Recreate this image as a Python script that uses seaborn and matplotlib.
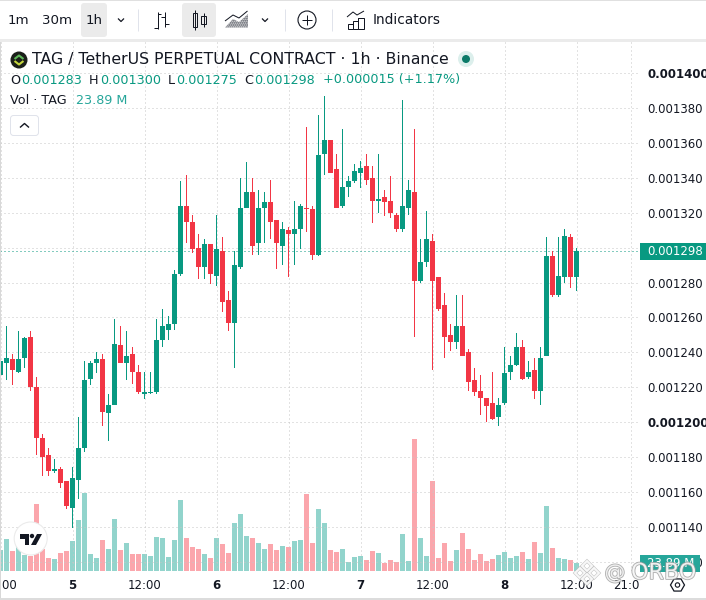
import numpy as np
import pandas as pd
import matplotlib
matplotlib.use("Agg")
import matplotlib.pyplot as plt
import matplotlib.patheffects as pe
from matplotlib.patches import Circle, FancyBboxPatch, Rectangle, Polygon, RegularPolygon
from matplotlib.transforms import Bbox
import seaborn as sns

# prices in millionths of USDT
opens = [1227,1234,1236,1229,1237,1249,1220,1191,1181,1172,
         1173,1166,1151,1167,1185,1225,1234,1236,1205,1210,
         1244,1234,1239,1229,1216,1216.8,1217,1247,1253,1256,
         1285,1324,1315,1300,1289,1302,1284,1298,1270,1257,
         1289,1323,1332,1303,1323,1326,1316,1301,1310,1308,
         1311,1323,1322,1296,1354,1362,1345,1324,1335,1338,
         1343,1347,1340,1327,1329,1327,1319,1311,1323,1332,
         1281,1292,1304,1283,1267,1250,1246,1255,1240,1224,
         1218,1214,1211,1203,1211,1229,1233,1243,1226,1230,
         1218,1238,1295,1273,1283,1306,1283]
closes = [1235,1237,1230,1236,1248,1220,1191,1180,1172,1173,
          1165,1152,1168,1185,1224,1234,1236,1206,1210,1245,
          1234,1238,1229,1217,1217,1217.4,1247,1255,1256,1285,
          1324,1315,1299,1289,1302,1285,1299,1269,1257,1290,
          1323,1332,1301,1323,1326,1315,1303,1311,1308,1311,
          1324,1322,1296,1353,1362,1343,1323,1335,1338,1344,
          1346,1339,1327,1328,1326,1320,1311,1324,1333,1281,
          1292,1305,1281,1265,1249,1246,1255,1238,1223,1217,
          1214,1209,1202,1210,1228,1233,1243,1225,1229,1218,
          1237,1295,1273,1284,1307,1283,1298]
highs = [1235,1255,1239,1252,1249,1252,1226,1193,1185,1179,
         1174,1166,1174,1203,1235,1235,1240,1239,1216,1259,
         1255,1252,1243,1233,1229,1229,1259,1265,1261,1287,
         1338,1342,1319,1308,1305,1302,1319,1306,1275,1298,
         1340,1349,1340,1333,1332,1339,1316,1315,1312,1327,
         1325,1369,1324,1376,1387,1362,1354,1368,1341,1348,
         1350,1354,1347,1354,1333,1341,1320,1385,1339,1368,
         1305,1321,1308,1283,1274,1256,1273,1273,1242,1231,
         1227,1214,1229,1214,1243,1238,1251,1247,1235,1237,
         1243,1306,1298,1306,1311,1308,1300]
lows = [1227,1224,1221,1228,1231,1218,1181,1169,1169,1171,
        1162,1150,1139,1156,1183,1221,1228,1198,1189,1210,
        1234,1224,1222,1216,1213,1216,1216,1243,1247,1253,
        1284,1303,1297,1282,1282,1279,1278,1263,1252,1231,
        1288,1323,1296,1296,1303,1305,1288,1290,1283,1290,
        1299,1309,1293,1295,1342,1343,1323,1323,1329,1337,
        1334,1336,1314,1320,1318,1317,1309,1309,1319,1249,
        1280,1289,1230,1264,1237,1241,1242,1238,1218,1215,
        1204,1200,1201,1198,1210,1224,1232,1224,1225,1213,
        1210,1238,1272,1272,1280,1277,1275]
volumes_m = [63,96,60,75,48,45,201,66,39,36,
             54,60,90,153,234,51,39,93,66,156,
             63,84,51,51,51,45,102,99,42,93,
             213,99,72,66,51,39,99,81,54,144,
             171,105,99,84,66,81,63,75,72,90,
             93,231,84,186,144,63,57,66,27,42,
             45,33,60,54,24,33,27,111,30,396,
             99,45,270,39,84,30,63,114,66,33,
             51,30,36,48,57,39,45,57,36,87,
             54,195,69,39,36,33,23.89]
price_ticks = [1120,1140,1160,1180,1200,1220,1240,1260,1280,1300,1320,1340,1360,1380,1400]
bold_prices = [1200,1400]
hidden_prices = [1300]
time_ticks = [0,12,24,36,48,60,72,84,96,105]
time_labels = ["12:00","5","12:00","6","12:00","7","12:00","8","12:00","21:00"]
bold_times = ["5","6","7","8"]
last_price = 1298
UP, DOWN = "#089981", "#F23645"
UP_VOL, DOWN_VOL = "#92D4CC", "#FBA6AC"
TEXT = "#131722"
GRID = "#C6C6C6"

sns.set_theme(style="white")
plt.rcParams["font.family"] = ["DejaVu Sans"]
W, H = 706, 600
fig = plt.figure(figsize=(W/100, H/100), dpi=100, facecolor="white")

def box(l, t, r, b):
    return [l/W, 1-b/H, (r-l)/W, (b-t)/H]

df = pd.DataFrame(dict(i=range(len(opens)), o=opens, h=highs, l=lows, c=closes, vol=volumes_m))
df["dir"] = np.where(df.c >= df.o, "up", "down")
e6 = 1e-6
xlim = (-0.5/6, (639-0.5)/6)
ylim = (1114.6*e6, 1418.0*e6)

# volume pane
axv = fig.add_axes(box(0, 42, 639, 571), zorder=1)
sns.barplot(data=df, x="i", y="vol", hue="dir", palette={"up": UP_VOL, "down": DOWN_VOL},
            native_scale=True, dodge=False, width=5/6, saturation=1, errorbar=None,
            legend=False, linewidth=0, ax=axv)
axv.set_xlim(xlim); axv.set_ylim(0, 529*3)
axv.set_xticks([]); axv.set_yticks([]); axv.set_xlabel(""); axv.set_ylabel("")
sns.despine(ax=axv, left=True, bottom=True)

# price pane
ax = fig.add_axes(box(0, 42, 639, 571), zorder=2)
ax.patch.set_alpha(0)
ax.set_xlim(xlim); ax.set_ylim(ylim)
for d, col in (("up", UP), ("down", DOWN)):
    s = df[df.dir == d]
    ax.bar(s.i, (s.h-s.l)*e6, bottom=s.l*e6, width=1/6, color=col, linewidth=0, zorder=3)
    ax.bar(s.i, (s.c-s.o)*e6, bottom=s.o*e6, width=5/6, color=col, linewidth=0, zorder=4)
ax.axhline(last_price*e6, color=UP, lw=0.72, ls=(0, (1, 3)), zorder=2)
ax.set_xticks(time_ticks); ax.set_xticklabels(time_labels)
ax.set_yticks([p*e6 for p in price_ticks])
ax.set_yticklabels(["" if p in hidden_prices else f"{p*e6:.6f}" for p in price_ticks])
ax.yaxis.tick_right()
ax.tick_params(axis="both", length=0, labelsize=8.45, labelcolor=TEXT)
ax.tick_params(axis="y", pad=5.8)
ax.tick_params(axis="x", pad=5.5)
ax.grid(True, color=GRID, lw=0.72, ls=(0, (1, 3)), zorder=0)
ax.set_axisbelow(True)
sns.despine(ax=ax, left=True, bottom=True, right=True, top=True)
for lab, p in zip(ax.get_yticklabels(), price_ticks):
    if p in bold_prices:
        lab.set_fontweight("bold")
for lab in ax.get_xticklabels():
    if lab.get_text() in bold_times:
        lab.set_fontweight("bold")
    lab.set_clip_on(True)
    lab.set_clip_box(Bbox([[0, 0], [639, H]]))

# chrome overlay in pixel coordinates
ov = fig.add_axes([0, 0, 1, 1], zorder=5)
ov.set_xlim(0, W); ov.set_ylim(H, 0); ov.axis("off"); ov.patch.set_alpha(0)

def T(x, y, s, size=9.2, color=TEXT, ha="left", **kw):
    return ov.text(x, y, s, fontsize=size, color=color, ha=ha, va="center", **kw)
def L(xs, ys, color=TEXT, lw=0.72, **kw):
    ov.plot(xs, ys, color=color, lw=lw, solid_capstyle="butt", **kw)
def RR(l, t, r, b, fc, ec="none", rad=3, lw=0.72):
    ov.add_patch(FancyBboxPatch((l+rad, t+rad), r-l-2*rad, b-t-2*rad,
                 boxstyle=f"round,pad={rad}", fc=fc, ec=ec, lw=lw))

# toolbar
ov.add_patch(Rectangle((0, 0), W, 38.5, fc="white", ec="none"))
ov.add_patch(Rectangle((0, 38.5), W, 3.5, fc="#EBEBEB", ec="none"))
ov.add_patch(Rectangle((0, 0), W, 1, fc="#E0E0E0", ec="none"))
RR(81, 3, 107, 37, "#EBEBEB")
RR(182, 3, 216, 37, "#EBEBEB")
T(7.5, 20, "1m", 9.6); T(42, 20, "30m", 9.6); T(85.5, 20, "1h", 9.6)
T(373, 20, "Indicators", 9.95)
for xc in (121, 265):
    L([xc-3, xc, xc+3], [18.5, 21.5, 18.5], lw=0.9)
for xs in (137.5, 284.5, 331.5):
    L([xs, xs], [9, 31], color="#E0E3EB")
# bar icon
L([157.5, 157.5], [12, 28.5]); L([154, 157.5], [28, 28]); L([157.5, 161, ], [14, 14])
L([164.5, 164.5], [12, 27]); L([161, 164.5], [17, 17]); L([164.5, 169], [24, 24])
# candle icon
L([195, 195], [10, 30]); ov.add_patch(Rectangle((192.7, 12.7), 4.6, 14, fc="#EBEBEB", ec=TEXT, lw=0.72))
L([203.5, 203.5], [12.7, 27]); ov.add_patch(Rectangle((201, 15.7), 4.8, 8.3, fc="#EBEBEB", ec=TEXT, lw=0.72))
# area icon
ov.add_patch(Polygon([(225, 27.5), (233, 19), (239, 22), (248, 14), (248, 27.5)],
                     fc="white", ec="#2A2E39", hatch="........", lw=0))
L([225, 233, 239, 247.5], [21, 15, 18, 11])
# plus icon
ov.add_patch(Circle((307, 20), 9, fc="none", ec=TEXT, lw=0.8))
L([302, 312], [20, 20]); L([307, 307], [15, 25])
# indicators icon
for (l, t) in ((347.5, 24), (352.5, 21), (357.5, 18)):
    ov.add_patch(Rectangle((l, t), 5, 28.5-t, fc="white", ec=TEXT, lw=0.72))
ov.add_patch(Rectangle((357.5, 18), 6.5, 10.5, fc="white", ec=TEXT, lw=0.72))
L([347, 353, 357, 364], [17, 12, 15, 11])

# header
ov.add_patch(Circle((19, 60), 8.5, fc="#1B1F1A", ec="none"))
L([14.5, 19, 23.5], [59, 55.5, 59], color="#5FB85A", lw=1.5)
L([14.5, 19, 23.5], [61, 64.5, 61], color="#C5D63D", lw=1.5)
T(32, 59.5, "TAG / TetherUS PERPETUAL CONTRACT · 1h · Binance", 11.35)
ov.add_patch(Circle((466, 59), 8, fc="#DCEFEC", ec="none"))
ov.add_patch(Circle((466, 59), 4, fc="#0B7A68", ec="none"))
row = 80
for lx, vx, lab, val in ((10, 21, "O", "0.001283"), (89, 100, "H", "0.001300"),
                         (168, 176, "L", "0.001275"), (244, 254, "C", "0.001298")):
    T(lx, row, lab); T(vx, row, val, color=UP)
T(323, row, "+0.000015 (+1.17%)", color=UP)
T(10, 100.5, "Vol · TAG"); T(76, 100.5, "23.89 M", color="#26A69A")
RR(10.5, 115.5, 38.5, 135.5, "white", ec="#E0E3EB", rad=3)
L([20, 24.5, 29], [127.5, 123.5, 127.5], lw=1.0)

# price badge
ov.add_patch(Rectangle((640, 243), 66, 17, fc=UP, ec="none"))
T(647, 251.5, "0.001298", 8.45, color="white")

# tradingview bubble
ov.add_patch(Circle((30.7, 538.5), 16.5, fc="white", ec="#EBEBEB", lw=0.8))
ov.add_patch(Polygon([(20, 534), (29, 534), (29, 545), (25, 545), (25, 538.5), (20, 538.5)], fc="#131722", ec="none"))
ov.add_patch(Circle((32, 536), 2.2, fc="#131722", ec="none"))
ov.add_patch(Polygon([(37, 534), (42, 534), (36, 545), (31, 545)], fc="#131722", ec="none"))

# volume badge
ov.add_patch(Rectangle((640, 555), 59.5, 16.5, fc="#26A69A", ec="none"))
T(647, 563.5, "23.89 M", 8.45, color="white")

# settings icon
ov.add_patch(RegularPolygon((677.5, 585), 6, radius=7, orientation=np.pi/6, fc="white", ec=TEXT, lw=0.9))
ov.add_patch(Circle((677.5, 585), 2.2, fc="white", ec=TEXT, lw=0.8))

# watermark
shadow = [pe.withStroke(linewidth=1.2, foreground="#9A9A9A")]
for x, s, size in ((604.5, "@", 15), (631, "ORBO", 16)):
    t = T(x, 573, s, size, color="white", alpha=0.8)
    t.set_path_effects(shadow)
for (xc, yc) in ((580, 573), (587, 566), (594, 573), (587, 579)):
    p = RegularPolygon((xc, yc), 4, radius=5, fc="none", ec="white", lw=1.5, alpha=0.9,
                       path_effects=[pe.withStroke(linewidth=2.2, foreground="#B8B8B8")])
    ov.add_patch(p)

# frame
ov.add_patch(Rectangle((0, 42), 1, H-42, fc="#D8D8D8", ec="none"))
ov.add_patch(Rectangle((0, 598), W, 2, fc="#DCDCDC", ec="none"))

fig.savefig("out.png", dpi=100)
